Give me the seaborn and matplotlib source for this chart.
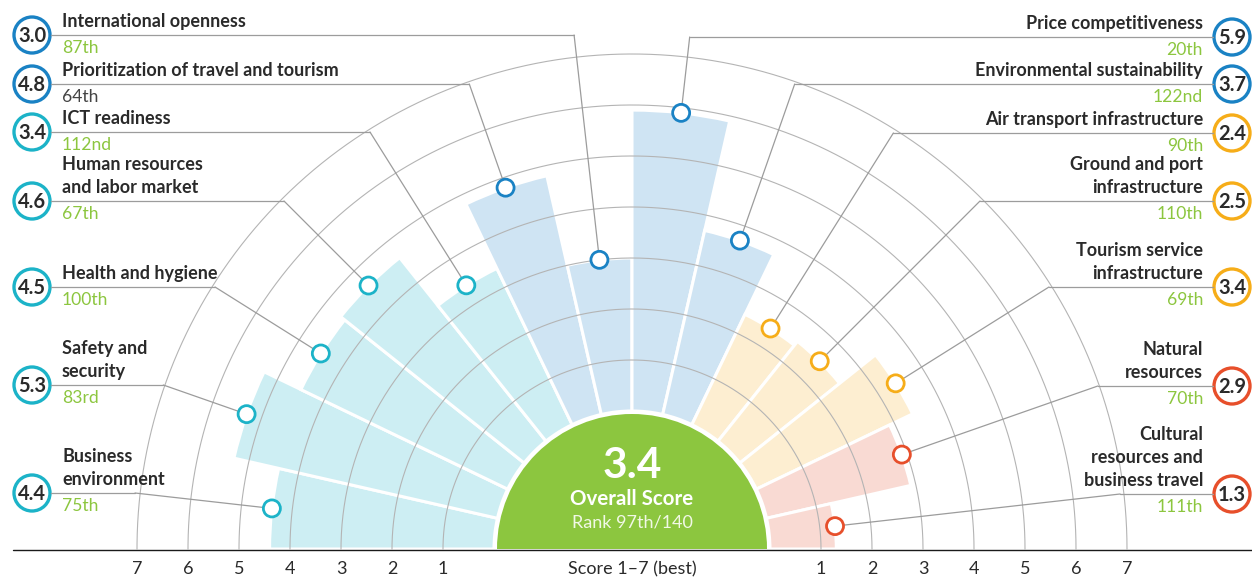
import numpy as np
import matplotlib
matplotlib.use("Agg")
import matplotlib.pyplot as plt
from matplotlib.patches import Circle
import seaborn as sns

# pillars listed clockwise, starting at the left end of the half circle
pillars = ["Business\nenvironment", "Safety and\nsecurity", "Health and hygiene",
           "Human resources\nand labor market", "ICT readiness",
           "Prioritization of travel and tourism", "International openness",
           "Price competitiveness", "Environmental sustainability",
           "Air transport infrastructure", "Ground and port\ninfrastructure",
           "Tourism service\ninfrastructure", "Natural\nresources",
           "Cultural\nresources and\nbusiness travel"]
scores = [4.4, 5.3, 4.5, 4.6, 3.4, 4.8, 3.0, 5.9, 3.7, 2.4, 2.5, 3.4, 2.9, 1.3]
ranks = ["75th", "83rd", "100th", "67th", "112nd", "64th", "87th",
         "20th", "122nd", "90th", "110th", "69th", "70th", "111th"]
groups = ["enabling"] * 5 + ["policy"] * 4 + ["infrastructure"] * 3 + ["resources"] * 2
score_ticks = [1, 2, 3, 4, 5, 6, 7]
overall_score = "3.4"
overall_rank = "Rank 97th/140"

line_colors = {"enabling": "#1cb3c8", "policy": "#1a82c4",
               "infrastructure": "#f6ad19", "resources": "#e74f2b"}
fill_colors = {"enabling": "#cdeef3", "policy": "#cfe4f3",
               "infrastructure": "#fdeed1", "resources": "#f9dad3"}
GREEN = "#8cc63f"
TEXT = "#2a2a2a"
GRID = "#b4b4b4"
LEAD = "#9c9c9c"

# layout (pixels, y measured from the top)
W, H = 1252, 578
CX, CY = 632, 549
R0, PX = 138, 51          # radius of score 0 and pixels per score unit
RMAX = 7.4
label_y = [493, 385, 287, 201, 132, 84, 35, 37, 84, 133, 201, 287, 386, 494]

sns.set_theme(style="white")
plt.rcParams["font.family"] = ["Lato", "DejaVu Sans"]

fig = plt.figure(figsize=(W / 100, H / 100), dpi=100)
rad = R0 + PX * RMAX
ax = fig.add_axes([(CX - rad) / W, ((H - CY) - rad) / H, 2 * rad / W, 2 * rad / H],
                  projection="polar")
ax.set_ylim(-R0 / PX, RMAX)
ax.set_xticks([])
ax.set_yticks([])
ax.grid(False)
ax.spines["polar"].set_visible(False)
ax.patch.set_alpha(0)

n = len(scores)
step = np.pi / n
theta = np.pi - (np.arange(n) + 0.5) * step

ax.bar(theta, scores, width=step, bottom=0,
       color=[fill_colors[g] for g in groups], edgecolor="white", linewidth=2.2, zorder=1)

arc = np.linspace(0, np.pi, 300)
for s in score_ticks:
    ax.plot(arc, np.full_like(arc, s), color=GRID, lw=0.8, zorder=2)

# overall score disc
ax.bar(np.pi / 2, 135 / PX, width=np.pi, bottom=-R0 / PX, color=GREEN, linewidth=0, zorder=3)

ov = fig.add_axes([0, 0, 1, 1])
ov.set_xlim(0, W)
ov.set_ylim(H, 0)
ov.axis("off")

for i in range(n):
    y = label_y[i]
    lc = line_colors[groups[i]]
    r_px = (CY - y) / np.sin(theta[i])
    ax.plot([theta[i], theta[i]], [scores[i], (r_px - R0) / PX],
            color=LEAD, lw=0.9, clip_on=False, zorder=4)
    x_el = CX + r_px * np.cos(theta[i])
    left = theta[i] > np.pi / 2
    bx = 32 if left else 1232
    edge = bx + 19 if left else bx - 19
    ov.plot([edge, x_el], [y, y], color=LEAD, lw=0.9)
    ov.add_patch(Circle((bx, y), 18, facecolor="white", edgecolor=lc, lw=2.4))
    ov.text(bx, y + 1, f"{scores[i]:.1f}", ha="center", va="center",
            fontsize=14.5, fontweight="bold", color=TEXT)
    tx = 62 if left else 1203
    ha = "left" if left else "right"
    lines = pillars[i].split("\n")
    for k, txt in enumerate(lines):
        ov.text(tx, y - 8 - 23 * (len(lines) - 1 - k), txt, ha=ha, va="baseline",
                fontsize=13, fontweight="bold", color=TEXT)
    rc = "#444444" if ranks[i] == "64th" else GREEN
    ov.text(tx, y + 18, ranks[i], ha=ha, va="baseline", fontsize=12.6, color=rc)

sns.scatterplot(x=theta, y=scores, color="white",
                edgecolor=[line_colors[g] for g in groups],
                linewidth=2.0, s=150, ax=ax, zorder=5, clip_on=False)
ax.set_xlabel("")
ax.set_ylabel("")
ax.set_ylim(-R0 / PX, RMAX)

for s in score_ticks:
    for t in (0, np.pi):
        ax.annotate(str(s), xy=(t, s), xytext=(0, -20), textcoords="offset pixels",
                    ha="center", va="center", fontsize=13, color=TEXT,
                    annotation_clip=False)

ov.plot([13, W], [CY + 0.5, CY + 0.5], color="#1a1a1a", lw=1.0)
ov.text(CX, 569, "Score 1\u20137 (best)", ha="center", va="center", fontsize=13, color=TEXT)

ov.text(CX, 466, overall_score, ha="center", va="center", fontsize=30.5,
        fontweight="bold", color="white")
ov.text(CX, 499, "Overall Score", ha="center", va="center", fontsize=14.8,
        fontweight="bold", color="white")
ov.text(CX, 522, overall_rank, ha="center", va="center", fontsize=13, color="#f1f8e6")

fig.savefig("out.png", dpi=100)
